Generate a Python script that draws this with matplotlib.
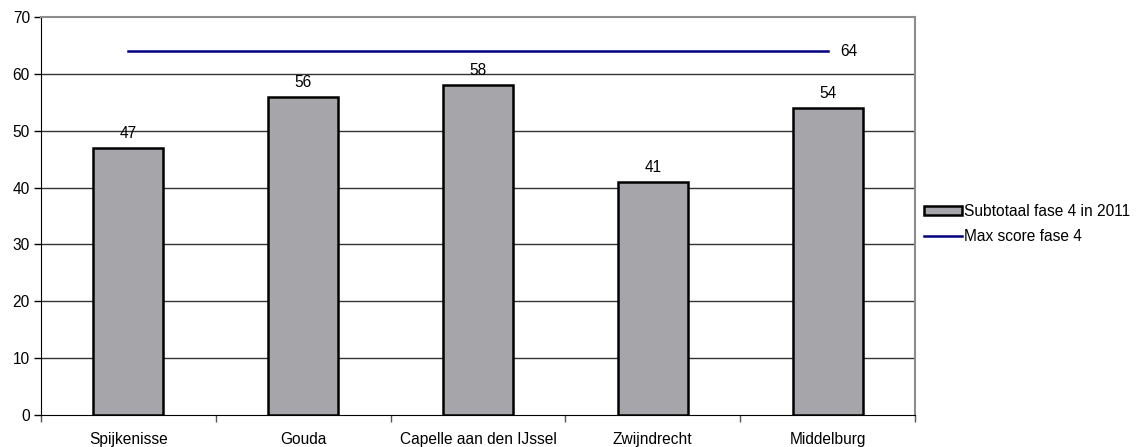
import matplotlib
matplotlib.use("Agg")
import matplotlib.pyplot as plt
import numpy as np

plt.rcParams['font.family'] = ['Liberation Sans', 'DejaVu Sans']

categories = ["Spijkenisse", "Gouda", "Capelle aan den IJssel", "Zwijndrecht", "Middelburg"]
subtotaal = [47, 56, 58, 41, 54]
max_score = [64, 64, 64, 64, 64]
y_ticks = [0, 10, 20, 30, 40, 50, 60, 70]

fig = plt.figure(figsize=(11.37, 4.47), dpi=100)
ax = fig.add_axes([41 / 1137, 1 - 415 / 447, (915 - 41) / 1137, (415 - 17) / 447])

x = np.arange(len(categories))
bars = ax.bar(x, subtotaal, width=0.4, color="#A6A6AA", edgecolor="black",
              linewidth=1.8, zorder=3, label="Subtotaal fase 4 in 2011")
line, = ax.plot(x, max_score, color="#000080", linewidth=1.8, zorder=4,
                label="Max score fase 4")

fs = 11.2
for xi, v in zip(x, subtotaal):
    ax.text(xi, v + 1.2, str(v), ha="center", va="bottom", fontsize=fs)
ax.text(x[-1] + 0.12, max_score[-1], str(max_score[-1]), ha="center",
        va="center", fontsize=fs)

ax.set_xlim(-0.5, len(categories) - 0.5)
ax.set_ylim(0, 70)
ax.set_yticks(y_ticks)
ax.set_yticklabels([str(t) for t in y_ticks], fontsize=fs)
ax.set_xticks(x)
ax.set_xticklabels(categories, fontsize=fs)
ax.set_xticks(np.arange(-0.5, len(categories)), minor=True)
ax.tick_params(axis="x", which="major", length=0, pad=12)
ax.tick_params(axis="x", which="minor", length=5, width=1, color="#555555")
ax.tick_params(axis="y", length=5, width=1, pad=3)

for t in y_ticks[1:-1]:
    ax.axhline(t, color="#333333", linewidth=1, zorder=1)

for side in ["top", "right"]:
    ax.spines[side].set_color("#8C8C8C")
    ax.spines[side].set_linewidth(1.5)
ax.spines["left"].set_color("black")
ax.spines["bottom"].set_color("black")

fig.legend(handles=[bars, line], labels=["Subtotaal fase 4 in 2011", "Max score fase 4"],
           loc="upper left", bbox_to_anchor=(918 / 1137, 1 - 197.5 / 447),
           frameon=False, fontsize=fs, handlelength=2.4, handleheight=0.55,
           handletextpad=0.15, labelspacing=0.68, borderaxespad=0)

fig.savefig("out.png", dpi=100)
